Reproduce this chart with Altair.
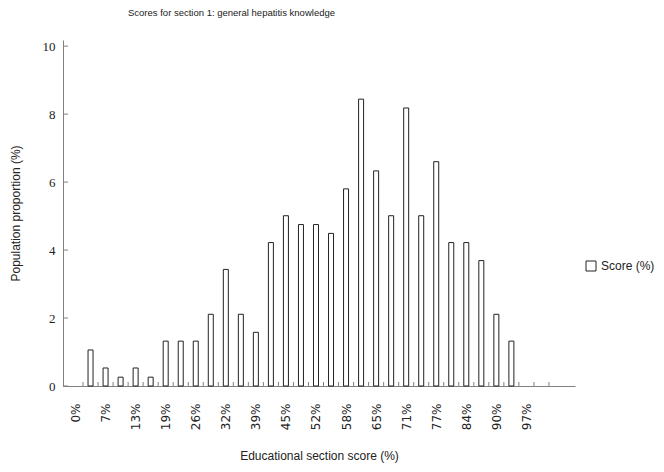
import json
import altair as alt
import pandas as pd

# category index (score bins) and population proportion (%)
cat_index = list(range(32))
proportion = [0.00, 1.06, 0.53, 0.26, 0.53, 0.26, 1.32, 1.32, 1.32, 2.11,
              3.43, 2.11, 1.58, 4.22, 5.01, 4.75, 4.75, 4.49, 5.80, 8.44,
              6.33, 5.01, 8.18, 5.01, 6.60, 4.22, 4.22, 3.69, 2.11, 1.32,
              0.00, 0.00]
tick_labels = ["0%", "7%", "13%", "19%", "26%", "32%", "39%", "45%",
               "52%", "58%", "65%", "71%", "77%", "84%", "90%", "97%"]
y_ticks = [0, 2, 4, 6, 8, 10]
boundaries = list(range(1, 33))

df = pd.DataFrame({"idx": cat_index, "value": proportion, "series": "Score (%)"})
df_b = pd.DataFrame({"b": boundaries})
df_y = pd.DataFrame({"t": y_ticks})

XDOM = [0, 33.4]
YDOM = [0, 10.18]
label_values = [i + 0.5 for i in range(0, 31, 2)]
label_expr = json.dumps(tick_labels) + "[floor(datum.value / 2)]"

AX = "#808080"
FONT = "Liberation Sans"

x_scale = alt.Scale(domain=XDOM, nice=False, zero=False)
y_scale = alt.Scale(domain=YDOM, nice=False)

x_axis = alt.Axis(values=label_values, labelExpr=label_expr, labelAngle=-90,
                  ticks=False, grid=False, domainColor=AX, labelPadding=17,
                  labelFont="DejaVu Sans", labelFontSize=12, labelColor="#222",
                  title="Educational section score (%)", titleFont=FONT,
                  titleFontSize=12, titleFontWeight="normal", titleColor="#222",
                  titlePadding=21)
y_axis = alt.Axis(values=y_ticks, ticks=False, grid=False, domainColor=AX,
                  labelFont="Liberation Serif", labelFontSize=13, labelColor="#222",
                  labelPadding=8, title="Population proportion (%)",
                  titleFont=FONT, titleFontSize=12, titleFontWeight="normal",
                  titleColor="#222", titlePadding=20)

bars = alt.Chart(df).transform_filter("datum.value > 0").transform_calculate(
    pos="datum.idx + 0.5"
).mark_bar(size=5, fill="white", strokeWidth=1).encode(
    x=alt.X("pos:Q", scale=x_scale, axis=x_axis),
    y=alt.Y("value:Q", scale=y_scale, axis=y_axis),
    stroke=alt.Stroke("series:N", scale=alt.Scale(range=["#222222"]),
                      legend=alt.Legend(title=None, orient="none", legendX=522, legendY=220,
                                        symbolType="square", symbolSize=100,
                                        symbolFillColor="white", symbolStrokeWidth=1,
                                        labelFont=FONT, labelFontSize=12, labelColor="#222",
                                        labelOffset=4)),
)

xticks = alt.Chart(df_b).mark_rule(color=AX, strokeWidth=1).encode(
    x=alt.X("b:Q", scale=x_scale, axis=x_axis),
    y=alt.value(346),
    y2=alt.value(342),
)

yticks = alt.Chart(df_y).mark_rule(color=AX, strokeWidth=1).encode(
    y=alt.Y("t:Q", scale=y_scale, axis=y_axis),
    x=alt.value(0),
    x2=alt.value(5),
)

chart = alt.layer(bars, xticks, yticks).properties(
    width=512,
    height=346,
    title=alt.TitleParams("Scores for section 1: general hepatitis knowledge",
                          anchor="start", frame="group", dx=65, offset=23,
                          font=FONT, fontSize=9.5, fontWeight="normal", color="#222"),
    padding={"left": 55, "top": 32, "right": 81, "bottom": 78},
    autosize=alt.AutoSizeParams(type="none"),
).configure(background="white").configure_view(stroke=None)

chart.save("out.html", embed_options={"renderer": "svg", "actions": False})
